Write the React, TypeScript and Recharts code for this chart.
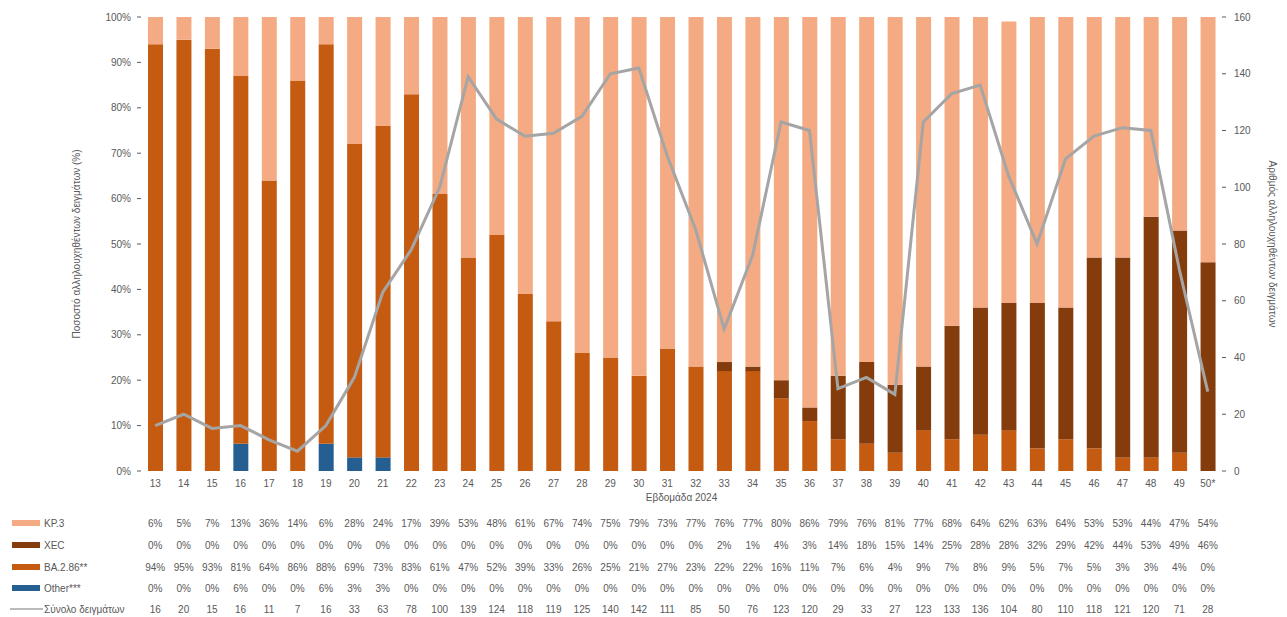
import { ComposedChart, Bar, Line, XAxis, YAxis } from "recharts";

const weeks = [
  "13", "14", "15", "16", "17", "18", "19", "20", "21", "22", "23", "24", "25",
  "26", "27", "28", "29", "30", "31", "32", "33", "34", "35", "36", "37", "38",
  "39", "40", "41", "42", "43", "44", "45", "46", "47", "48", "49", "50*",
];

const kp3 = [
  6, 5, 7, 13, 36, 14, 6, 28, 24, 17, 39, 53, 48,
  61, 67, 74, 75, 79, 73, 77, 76, 77, 80, 86, 79, 76,
  81, 77, 68, 64, 62, 63, 64, 53, 53, 44, 47, 54,
];

const xec = [
  0, 0, 0, 0, 0, 0, 0, 0, 0, 0, 0, 0, 0,
  0, 0, 0, 0, 0, 0, 0, 2, 1, 4, 3, 14, 18,
  15, 14, 25, 28, 28, 32, 29, 42, 44, 53, 49, 46,
];

const ba286 = [
  94, 95, 93, 81, 64, 86, 88, 69, 73, 83, 61, 47, 52,
  39, 33, 26, 25, 21, 27, 23, 22, 22, 16, 11, 7, 6,
  4, 9, 7, 8, 9, 5, 7, 5, 3, 3, 4, 0,
];

const other = [
  0, 0, 0, 6, 0, 0, 6, 3, 3, 0, 0, 0, 0,
  0, 0, 0, 0, 0, 0, 0, 0, 0, 0, 0, 0, 0,
  0, 0, 0, 0, 0, 0, 0, 0, 0, 0, 0, 0,
];

const totals = [
  16, 20, 15, 16, 11, 7, 16, 33, 63, 78, 100, 139, 124,
  118, 119, 125, 140, 142, 111, 85, 50, 76, 123, 120, 29, 33,
  27, 123, 133, 136, 104, 80, 110, 118, 121, 120, 71, 28,
];

const pctTicks = [0, 10, 20, 30, 40, 50, 60, 70, 80, 90, 100];
const countTicks = [0, 20, 40, 60, 80, 100, 120, 140, 160];

const colors = {
  kp3: "#F4AB83",
  xec: "#843C0C",
  ba286: "#C55A11",
  other: "#255E91",
  total: "#A5A5A5",
};

const font = "'Liberation Sans', Arial, sans-serif";

const data = weeks.map((w, i) => ({
  week: w,
  kp3: kp3[i],
  xec: xec[i],
  ba286: ba286[i],
  other: other[i],
  total: totals[i],
}));

// table rows under the x axis, same order as the legend
const rows = [
  { values: kp3, pct: true },
  { values: xec, pct: true },
  { values: ba286, pct: true },
  { values: other, pct: true },
  { values: totals, pct: false },
];
const rowY = [523, 545, 567, 588, 609];

const legendItems = [
  { name: "KP.3", color: colors.kp3, line: false },
  { name: "XEC", color: colors.xec, line: false },
  { name: "BA.2.86**", color: colors.ba286, line: false },
  { name: "Other***", color: colors.other, line: false },
  { name: "Σύνολο δειγμάτων", color: colors.total, line: true },
];

const PLOT_BOTTOM = 471;

function WeekTick(props: any) {
  const { x, y, payload } = props;
  const i = weeks.indexOf(payload.value);
  return (
    <g>
      <text x={x} y={y + 16} textAnchor="middle" fontSize={10} fill="#595959" fontFamily={font}>
        {payload.value}
      </text>
      {rows.map((r, k) => (
        <text
          key={k}
          x={x}
          y={y + (rowY[k] - PLOT_BOTTOM) + 3.5}
          textAnchor="middle"
          fontSize={10}
          fill="#595959"
          fontFamily={font}
        >
          {r.pct ? `${r.values[i]}%` : r.values[i]}
        </text>
      ))}
    </g>
  );
}

export default function App() {
  return (
    <div style={{ position: "absolute", left: 0, top: 0, width: 1287, height: 617, background: "#fff" }}>
      <ComposedChart
        width={1287}
        height={617}
        data={data}
        margin={{ top: 17, right: 0, left: 0, bottom: 0 }}
        barSize={15}
      >
        <XAxis
          dataKey="week"
          height={146}
          axisLine={false}
          tickLine={false}
          tickSize={0}
          tickMargin={0}
          interval={0}
          tick={<WeekTick />}
          label={{
            value: "Εβδομάδα 2024",
            position: "insideTop",
            offset: 23,
            fontSize: 10,
            fill: "#595959",
            fontFamily: font,
          }}
        />
        <YAxis
          yAxisId="pct"
          width={141}
          domain={[0, 100]}
          ticks={pctTicks}
          interval={0}
          tickFormatter={(v) => `${v}%`}
          axisLine={false}
          tickSize={4}
          tickMargin={6}
          tickLine={{ stroke: "#595959" }}
          tick={{ fontSize: 10, fill: "#595959", fontFamily: font }}
          label={{
            value: "Ποσοστό αλληλουχηθέντων δειγμάτων (%)",
            angle: -90,
            position: "center",
            dx: 6,
            fontSize: 10,
            fill: "#595959",
            fontFamily: font,
          }}
        />
        <YAxis
          yAxisId="count"
          orientation="right"
          width={65}
          domain={[0, 160]}
          ticks={countTicks}
          interval={0}
          axisLine={false}
          tickSize={4}
          tickMargin={8}
          tickLine={{ stroke: "#595959" }}
          tick={{ fontSize: 10, fill: "#595959", fontFamily: font }}
          label={{
            value: "Αριθμός αλληλουχηθέντων δειγμάτων",
            angle: 90,
            position: "center",
            dx: 18,
            fontSize: 10,
            fill: "#595959",
            fontFamily: font,
          }}
        />
        <Bar yAxisId="pct" dataKey="other" stackId="a" fill={colors.other} isAnimationActive={false} />
        <Bar yAxisId="pct" dataKey="ba286" stackId="a" fill={colors.ba286} isAnimationActive={false} />
        <Bar yAxisId="pct" dataKey="xec" stackId="a" fill={colors.xec} isAnimationActive={false} />
        <Bar yAxisId="pct" dataKey="kp3" stackId="a" fill={colors.kp3} isAnimationActive={false} />
        <Line
          yAxisId="count"
          type="linear"
          dataKey="total"
          stroke={colors.total}
          strokeWidth={3}
          dot={false}
          isAnimationActive={false}
        />
      </ComposedChart>

      <svg
        width={141}
        height={617}
        style={{ position: "absolute", left: 0, top: 0, pointerEvents: "none" }}
      >
        {legendItems.map((it, k) =>
          it.line ? (
            <g key={it.name}>
              <line x1={10} x2={43} y1={rowY[k]} y2={rowY[k]} stroke={it.color} strokeWidth={1.5} />
              <text x={44} y={rowY[k] + 3.5} fontSize={10} fill="#595959" fontFamily={font}>
                {it.name}
              </text>
            </g>
          ) : (
            <g key={it.name}>
              <rect x={12} y={rowY[k] - 3} width={28} height={6} fill={it.color} />
              <text x={44} y={rowY[k] + 3.5} fontSize={10} fill="#595959" fontFamily={font}>
                {it.name}
              </text>
            </g>
          )
        )}
      </svg>
    </div>
  );
}
